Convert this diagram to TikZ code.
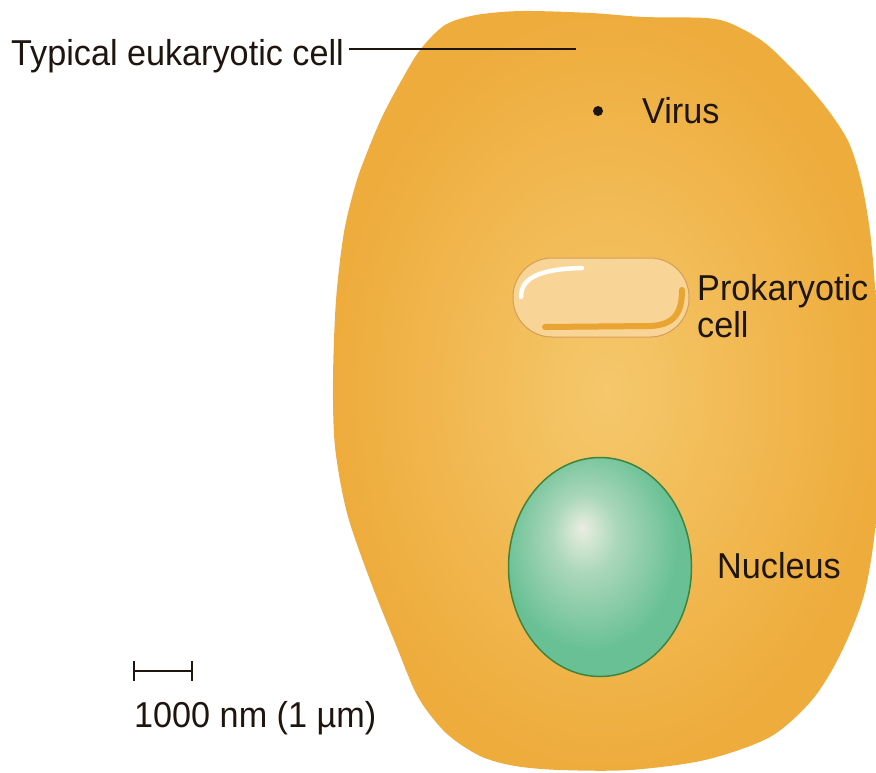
\documentclass[tikz,border=0pt]{standalone}
\usepackage{fontspec}
\setmainfont{Liberation Sans}[FakeStretch=0.95]
\usetikzlibrary{positioning,shapes.geometric,arrows.meta}
\definecolor{cellOrange}{RGB}{238,172,60}
\definecolor{cellLight}{RGB}{245,200,108}
\definecolor{prokFill}{RGB}{248,212,150}
\definecolor{prokEdge}{RGB}{212,158,88}
\definecolor{prokDark}{RGB}{234,164,50}
\definecolor{nucGreen}{RGB}{104,192,148}
\definecolor{nucMid}{RGB}{170,215,185}
\definecolor{nucLight}{RGB}{234,238,224}
\definecolor{nucEdge}{RGB}{62,132,64}
\definecolor{labelInk}{RGB}{30,22,14}
\pgfdeclareradialshading{nucShade}{\pgfpoint{-5bp}{9bp}}{color(0bp)=(nucLight); color(9bp)=(nucMid); color(24bp)=(nucGreen); color(50bp)=(nucGreen)}

\begin{document}
\begin{tikzpicture}[x=1pt, y=-1pt]
        \tikzset{lbl/.style={font=\fontsize{36}{37}\selectfont, text=labelInk, inner sep=0pt}}
        \useasboundingbox (0,0) rectangle (876,772);
        \clip (0,0) rectangle (876,772);
        \shade[inner color=cellLight, outer color=cellOrange] plot[smooth cycle, tension=0.5] coordinates {(445,25) (476,15) (522,11) (591,13) (644,17) (706,18) (732,24) (765,43) (800,77) (828,110) (849,143) (862,185) (871,240) (877,320) (879,420) (876,520) (864,595) (840,655) (812,700) (770,737) (705,760) (630,770) (560,770) (515,766) (480,756) (446,733) (418,697) (396,645) (370,580) (347,513) (335,447) (333,380) (336,300) (344,232) (356,183) (368,150) (382,117) (400,83) (420,50)};
        \node[circle, fill=labelInk, inner sep=0pt, minimum size=10pt] (virus) at (598,111) {};
        \node[draw=prokEdge, fill=prokFill, line width=1pt, rounded corners=39pt, minimum width=176pt, minimum height=79pt] (prok) at (601,297.5) {};
        \draw[white, line width=4.5pt, line cap=round] (521,297) .. controls (521,280) and (535,269) .. (582,268);
        \draw[prokDark, line width=6pt, line cap=round] (545,327) -- (650,326) .. controls (675,325) and (682,312) .. (682,290);
        \node[ellipse, draw=nucEdge, line width=1.5pt, shade, shading=nucShade, minimum width=183pt, minimum height=219pt] (nuc) at (600,567) {};
        \node[lbl, anchor=base west] (euklbl) at (11,65) {Typical eukaryotic cell};
        \coordinate (cellpt) at (576,49);
        \draw[line width=1.5pt, labelInk] ([xshift=5pt]euklbl.east |- cellpt) -- (cellpt);
        \node[lbl, anchor=base west] (viruslbl) at (642,123) {Virus};
        \node[lbl, anchor=north west, align=left] (proklbl) at (697,274) {Prokaryotic\\cell};
        \node[lbl, anchor=base west] (nuclbl) at (717,578) {Nucleus};
        \coordinate (barL) at (133,671);
        \coordinate (barR) at (193,671);
        \draw[line width=1.6pt, labelInk, {Bar[width=20pt]}-{Bar[width=20pt]}] (barL) -- (barR);
        \node[lbl, anchor=base west] (barlbl) at (134,727) {1000 nm (1 µm)};
      \end{tikzpicture}
\end{document}
